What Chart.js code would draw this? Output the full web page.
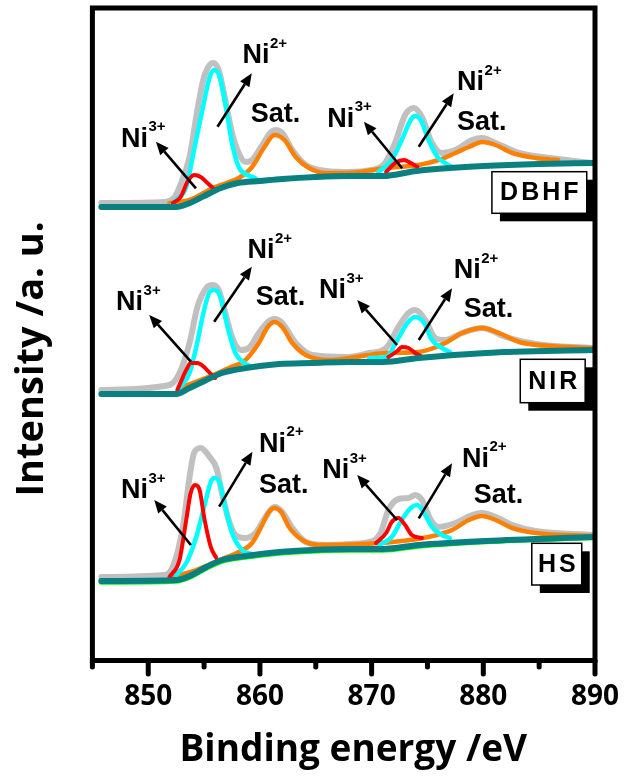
<!DOCTYPE html>
<html>
<head>
<meta charset="utf-8">
<script src="https://cdn.jsdelivr.net/npm/chart.js@4.4.1/dist/chart.umd.min.js"></script>
<style>
  html, body { margin: 0; padding: 0; background: #fff; }
  #wrap { width: 625px; height: 778px; position: relative; }
</style>
</head>
<body>
<div id="wrap"><canvas id="chart"></canvas></div>
<script>
'use strict';

/* Ni 2p XPS, three stacked samples (intensity in a.u., offsets included) */

// ---- DBHF ----
const dbhfBgX = [845.8, 850, 852.5, 853.5, 855, 856.5, 858, 860, 862, 865, 868, 871, 874, 877, 880, 885, 889.8];
const dbhfBgY = [456, 456, 456, 459, 467, 475, 480, 482, 484, 486, 487, 487, 492, 495, 497, 499, 500];
const dbhfEnvX = [845.8, 851.5, 852.3, 852.8, 853.7, 854.4, 855.0, 855.8, 856.3, 856.9, 857.5, 858.1, 858.7, 859.3, 860.1, 861.0, 861.4, 862.0, 862.9, 864.1, 865.3, 867.7, 870.0, 871.2, 872.1, 873.0, 873.8, 874.5, 875.4, 876.3, 877.5, 879.0, 879.9, 881.1, 883.2, 886.7, 889.8];
const dbhfEnvY = [460, 461, 465, 476, 506, 553, 586, 600, 593, 563, 530, 510, 501, 503, 516, 531, 533, 530, 513, 498, 493, 491, 493, 500, 520, 548, 555, 546, 520, 510, 513, 523, 525, 520, 510, 504, 500];
const dbhfNi2aX = [852.0, 852.5, 853.4, 854.1, 854.9, 855.5, 855.9, 856.4, 857.0, 857.5, 858.1, 858.9, 859.6];
const dbhfNi2aY = [457, 463, 476, 513, 556, 586, 593, 586, 553, 520, 496, 488, 485];
const dbhfNi2bX = [870.6, 871.8, 872.7, 873.5, 873.9, 874.4, 875.1, 875.9, 876.6, 877.2];
const dbhfNi2bY = [491, 503, 523, 543, 547, 543, 523, 506, 500, 496];
const dbhfNi3aX = [852.2, 852.9, 853.5, 854.1, 854.7, 855.3, 855.8];
const dbhfNi3aY = [460, 466, 481, 488, 486, 480, 475];
const dbhfNi3bX = [871.3, 872.1, 872.9, 873.5, 874.1];
const dbhfNi3bY = [491, 500, 503, 500, 496];
const dbhfSatX = [851.9, 853.7, 855.8, 857.0, 858.1, 859.3, 860.4, 861.3, 862.2, 863.2, 864.4, 865.9, 867.7, 871.3, 874.2, 876.0, 877.5, 878.7, 879.9, 881.1, 882.6, 884.7, 886.7];
const dbhfSatY = [460, 463, 475, 480, 485, 496, 516, 528, 523, 506, 495, 490, 490, 495, 498, 503, 510, 516, 521, 518, 510, 505, 503];

// ---- NIR ----
const nirBgX = [845.8, 852.5, 853.7, 855.2, 856.6, 858.7, 861.7, 864.7, 868, 871, 874.2, 880.2, 889.8];
const nirBgY = [269, 269, 275, 283, 290, 295, 299, 300, 301, 301, 305, 310, 313];
const nirEnvX = [845.8, 851.9, 852.8, 853.7, 854.4, 855.2, 855.8, 856.3, 856.9, 857.5, 858.3, 859.0, 859.9, 860.7, 861.3, 862.0, 863.2, 864.7, 867.7, 869.8, 871.3, 872.4, 873.3, 873.9, 874.8, 875.7, 876.6, 878.1, 879.9, 882.0, 884.7, 889.8];
const nirEnvY = [273, 278, 290, 320, 356, 375, 378, 373, 350, 326, 313, 315, 330, 341, 344, 340, 320, 308, 306, 310, 315, 336, 350, 353, 343, 325, 323, 330, 335, 326, 319, 315];
const nirNi2aX = [852.8, 853.7, 854.3, 855.0, 855.5, 855.9, 856.4, 857.1, 857.8, 858.6, 859.3];
const nirNi2aY = [275, 290, 316, 353, 371, 373, 368, 336, 310, 300, 296];
const nirNi2bX = [869.8, 871.3, 872.3, 873.2, 873.9, 874.7, 875.4, 876.3, 877.0];
const nirNi2bY = [305, 306, 323, 340, 346, 340, 323, 315, 311];
const nirNi3aX = [852.6, 853.4, 853.8, 854.4, 855.0, 855.6, 856.0];
const nirNi3aY = [273, 293, 300, 300, 296, 289, 285];
const nirNi3bX = [871.5, 872.3, 872.7, 873.3, 873.9, 874.4];
const nirNi3bY = [306, 312, 316, 315, 310, 307];
const nirSatX = [852.8, 855.8, 857.2, 858.7, 859.9, 860.7, 861.3, 862.0, 862.9, 864.1, 866.2, 868.0, 871.3, 874.2, 876.6, 878.1, 879.9, 881.4, 883.2, 886.1, 889.8];
const nirSatY = [275, 288, 295, 303, 320, 336, 341, 336, 320, 308, 303, 305, 310, 311, 320, 330, 335, 330, 321, 317, 315];

// ---- HS ----
const hsBgX = [845.8, 852.5, 853.7, 855.2, 856.6, 858.7, 861.7, 864.7, 868, 871, 874.2, 880.2, 889.8];
const hsBgY = [82, 83, 87, 96, 103, 107, 111, 113, 114, 114, 118, 122, 126];
const hsRawY = [81, 82, 86, 95, 102, 106, 110, 112, 113, 113, 117, 121.5, 125.5];
const hsEnvX = [845.8, 851.3, 852.2, 853.1, 853.7, 854.1, 854.7, 855.5, 856.1, 856.6, 857.2, 857.8, 858.7, 859.6, 860.5, 861.3, 862.0, 862.9, 864.1, 865.9, 868.0, 869.8, 870.8, 871.5, 872.4, 873.3, 873.9, 874.5, 875.3, 876.0, 877.5, 879.0, 879.9, 881.1, 882.6, 884.7, 889.8];
const hsEnvY = [86, 88, 96, 136, 186, 210, 215, 206, 195, 170, 143, 128, 125, 130, 146, 156, 151, 135, 121, 118, 119, 121, 130, 153, 164, 165, 168, 163, 143, 136, 140, 148, 150, 146, 138, 132, 128];
const hsNi3aX = [851.9, 852.8, 853.4, 853.8, 854.2, 854.6, 855.0, 855.6, 856.1];
const hsNi3aY = [86, 103, 143, 170, 178, 173, 146, 116, 105];
const hsNi3bX = [870.4, 871.3, 871.8, 872.4, 873.0, 873.6, 874.5];
const hsNi3bY = [120, 130, 141, 145, 138, 128, 125];
const hsNi2aX = [852.5, 853.4, 854.3, 855.0, 855.6, 855.9, 856.4, 856.9, 857.5, 858.4, 859.3];
const hsNi2aY = [88, 100, 126, 156, 181, 185, 180, 156, 130, 113, 109];
const hsNi2bX = [870.7, 871.8, 872.7, 873.5, 874.1, 874.7, 875.4, 876.3, 877.0];
const hsNi2bY = [118, 126, 143, 155, 158, 150, 136, 128, 125];
const hsSatX = [852.2, 854.3, 856.4, 858.1, 859.3, 860.2, 860.8, 861.3, 861.9, 862.6, 863.8, 865.3, 870.7, 875.1, 877.2, 878.7, 879.9, 881.1, 882.6, 884.7, 889.8];
const hsSatY = [86, 93, 103, 111, 120, 138, 151, 155, 151, 136, 123, 118, 120, 126, 133, 143, 147, 143, 135, 130, 127];

// axis
const majorTicks = [850, 860, 870, 880, 890];
const minorTicks = [845, 855, 865, 875, 885];

// peak labels (energy, intensity at text baseline)
const tagText = ['Ni', 'Ni', 'Sat.', 'Ni', 'Ni', 'Sat.',  'Ni', 'Ni', 'Sat.', 'Ni', 'Ni', 'Sat.',  'Ni', 'Ni', 'Sat.', 'Ni', 'Ni', 'Sat.'];
const tagSup  = ['3+', '2+', '', '3+', '2+', '',  '3+', '2+', '', '3+', '2+', '',  '3+', '2+', '', '3+', '2+', ''];
const tagE = [847.56, 858.43, 859.18, 866.03, 877.65, 877.65,  847.12, 858.88, 859.63, 865.29, 877.35, 878.24,  847.56, 859.92, 859.92, 865.58, 878.09, 879.14];
const tagI = [516.3, 599.7, 541.3, 536.3, 573, 533,  353, 404.7, 358, 364.7, 384.7, 346.3,  164.7, 211.3, 169.7, 184.7, 196.3, 159.7];

// arrows: tail energy/intensity -> head energy/intensity
const arrowTailE = [854.27, 856.2, 872.73, 874.22,  853.82, 855.9, 872.28, 874.22,  853.82, 856.35, 872.28, 874.22];
const arrowTailI = [474.7, 536.3, 494.7, 516.3,  301.3, 341.3, 318, 323,  118, 156.3, 143, 144.7];
const arrowHeadE = [850.69, 859.27, 869.31, 877.35,  850.09, 859.27, 868.71, 877.2,  850.54, 859.33, 868.71, 877.2];
const arrowHeadI = [521.3, 589.7, 541.3, 569.7,  348, 396.3, 363, 374.7,  163, 211.3, 188, 199.7];

// sample name boxes
const sampleNames = ['DBHF', 'NIR', 'HS'];
const boxLeftE  = [880.77, 883.31, 884.34];
const boxRightE = [889.26, 889.12, 888.81];
const boxTopI   = [491.3, 303.7, 119.7];
const boxBotI   = [449.7, 260.3, 78];

const COL = { bg: '#0a8080', env: '#c0c0c0', ni2: '#00ffff', ni3: '#ff0000', sat: '#ff8000', raw: '#00ff00' };

function series(xs, ys, color, width, order) {
  return {
    data: xs.map(function(x, i) { return { x: x, y: ys[i] }; }),
    borderColor: color,
    borderWidth: width,
    order: order,
    pointRadius: 0,
    fill: false,
    cubicInterpolationMode: 'monotone',
    borderCapStyle: 'round',
    borderJoinStyle: 'round'
  };
}

const datasets = [
  // DBHF
  series(dbhfBgX, dbhfBgY, COL.bg, 6, 0),
  series(dbhfNi3aX, dbhfNi3aY, COL.ni3, 4, 1),
  series(dbhfNi3bX, dbhfNi3bY, COL.ni3, 4, 1),
  series(dbhfNi2aX, dbhfNi2aY, COL.ni2, 4.5, 2),
  series(dbhfNi2bX, dbhfNi2bY, COL.ni2, 4.5, 2),
  series(dbhfSatX, dbhfSatY, COL.sat, 4.5, 3),
  series(dbhfEnvX, dbhfEnvY, COL.env, 6, 5),
  // NIR
  series(nirBgX, nirBgY, COL.bg, 6, 0),
  series(nirNi3aX, nirNi3aY, COL.ni3, 4, 1),
  series(nirNi3bX, nirNi3bY, COL.ni3, 4, 1),
  series(nirNi2aX, nirNi2aY, COL.ni2, 4.5, 2),
  series(nirNi2bX, nirNi2bY, COL.ni2, 4.5, 2),
  series(nirSatX, nirSatY, COL.sat, 4.5, 3),
  series(nirEnvX, nirEnvY, COL.env, 6, 5),
  // HS
  series(hsBgX, hsBgY, COL.bg, 6, 0),
  series(hsNi3aX, hsNi3aY, COL.ni3, 4, 1),
  series(hsNi3bX, hsNi3bY, COL.ni3, 4, 1),
  series(hsNi2aX, hsNi2aY, COL.ni2, 4.5, 2),
  series(hsNi2bX, hsNi2bY, COL.ni2, 4.5, 2),
  series(hsSatX, hsSatY, COL.sat, 4.5, 3),
  series(hsBgX, hsRawY, COL.raw, 5.5, 4),
  series(hsEnvX, hsEnvY, COL.env, 6, 5)
];

/* frame, outward ticks, peak labels, arrows, sample boxes */
const decorations = {
  id: 'decorations',
  afterDraw: function(chart) {
    const ctx = chart.ctx;
    const a = chart.chartArea;
    const xs = chart.scales.x;
    const ys = chart.scales.y;
    ctx.save();

    // ticks
    ctx.strokeStyle = '#000';
    ctx.lineCap = 'round';
    ctx.lineWidth = 5;
    majorTicks.forEach(function(v) {
      const p = xs.getPixelForValue(v);
      ctx.beginPath(); ctx.moveTo(p, a.bottom); ctx.lineTo(p, a.bottom + 13.5); ctx.stroke();
    });
    minorTicks.forEach(function(v) {
      const p = xs.getPixelForValue(v);
      ctx.beginPath(); ctx.moveTo(p, a.bottom); ctx.lineTo(p, a.bottom + 6.5); ctx.stroke();
    });

    // frame
    ctx.lineCap = 'butt';
    ctx.lineJoin = 'miter';
    ctx.strokeRect(a.left, a.top, a.right - a.left, a.bottom - a.top);

    // arrows
    ctx.lineWidth = 2.6;
    ctx.fillStyle = '#000';
    arrowTailE.forEach(function(e, i) {
      const x0 = xs.getPixelForValue(e), y0 = ys.getPixelForValue(arrowTailI[i]);
      const x1 = xs.getPixelForValue(arrowHeadE[i]), y1 = ys.getPixelForValue(arrowHeadI[i]);
      const ang = Math.atan2(y1 - y0, x1 - x0);
      const hl = 13, hw = 5.5;
      const bx = x1 - hl * Math.cos(ang), by = y1 - hl * Math.sin(ang);
      ctx.beginPath(); ctx.moveTo(x0, y0); ctx.lineTo(bx, by); ctx.stroke();
      ctx.beginPath();
      ctx.moveTo(x1, y1);
      ctx.lineTo(bx + hw * Math.sin(ang), by - hw * Math.cos(ang));
      ctx.lineTo(bx - hw * Math.sin(ang), by + hw * Math.cos(ang));
      ctx.closePath(); ctx.fill();
    });

    // peak labels
    ctx.textAlign = 'left';
    ctx.textBaseline = 'alphabetic';
    tagText.forEach(function(t, i) {
      const x = xs.getPixelForValue(tagE[i]), y = ys.getPixelForValue(tagI[i]);
      ctx.font = 'bold 27px "Liberation Sans", Arial, sans-serif';
      ctx.fillText(t, x, y);
      if (tagSup[i]) {
        const w = ctx.measureText(t).width;
        ctx.font = 'bold 15px "Liberation Sans", Arial, sans-serif';
        ctx.fillText(tagSup[i], x + w + 0.5, y - 15.5);
      }
    });

    // sample boxes with drop shadow
    sampleNames.forEach(function(name, i) {
      const l = xs.getPixelForValue(boxLeftE[i]), r = xs.getPixelForValue(boxRightE[i]);
      const t = ys.getPixelForValue(boxTopI[i]), b = ys.getPixelForValue(boxBotI[i]);
      ctx.fillStyle = '#000';
      ctx.fillRect(l + 8, t + 8, r - l, b - t);
      ctx.fillStyle = '#fff';
      ctx.fillRect(l, t, r - l, b - t);
      ctx.lineWidth = 1.5;
      ctx.strokeStyle = '#000';
      ctx.strokeRect(l, t, r - l, b - t);
      ctx.fillStyle = '#000';
      ctx.font = 'bold 25px "Liberation Sans", Arial, sans-serif';
      ctx.letterSpacing = '3px';
      ctx.textAlign = 'center';
      ctx.textBaseline = 'middle';
      ctx.fillText(name, (l + r) / 2 + 1.5, (t + b) / 2 + 1);
      ctx.letterSpacing = '0px';
    });
    ctx.restore();
  }
};

new Chart(document.getElementById('chart'), {
  type: 'line',
  data: { datasets: datasets },
  options: {
    responsive: true,
    maintainAspectRatio: false,
    animation: false,
    events: [],
    layout: { padding: { top: 8, right: 30, bottom: 0, left: 0 } },
    plugins: { legend: { display: false }, tooltip: { enabled: false } },
    scales: {
      x: {
        type: 'linear',
        min: 845,
        max: 890,
        grid: { display: false, drawTicks: false },
        border: { display: false },
        ticks: {
          stepSize: 5,
          autoSkip: false,
          maxRotation: 0,
          padding: 20,
          color: '#000',
          font: { family: 'Open Sans', weight: 'bold', size: 28 },
          callback: function(v) { return v % 10 === 0 ? String(v) : ''; }
        },
        title: {
          display: true,
          text: '  Binding energy /eV',
          color: '#000',
          font: { family: 'Open Sans', weight: 'bold', size: 37 },
          padding: { top: 13.7, bottom: 5.8 }
        },
        afterFit: function(scale) {
          scale.height = 117.5;
          scale.paddingLeft = 0;
          scale.paddingRight = 0;
        }
      },
      y: {
        type: 'linear',
        min: 2.5,
        max: 655,
        grid: { display: false, drawTicks: false },
        border: { display: false },
        ticks: { display: false },
        title: {
          display: true,
          text: 'Intensity /a. u.     ',
          color: '#000',
          font: { family: 'Open Sans', weight: 'bold', size: 38 },
          padding: { top: 9, bottom: 37.8 }
        },
        afterFit: function(scale) {
          scale.width = 92.4;
          scale.paddingTop = 0;
          scale.paddingBottom = 0;
        }
      }
    }
  },
  plugins: [decorations]
});
</script>
</body>
</html>
